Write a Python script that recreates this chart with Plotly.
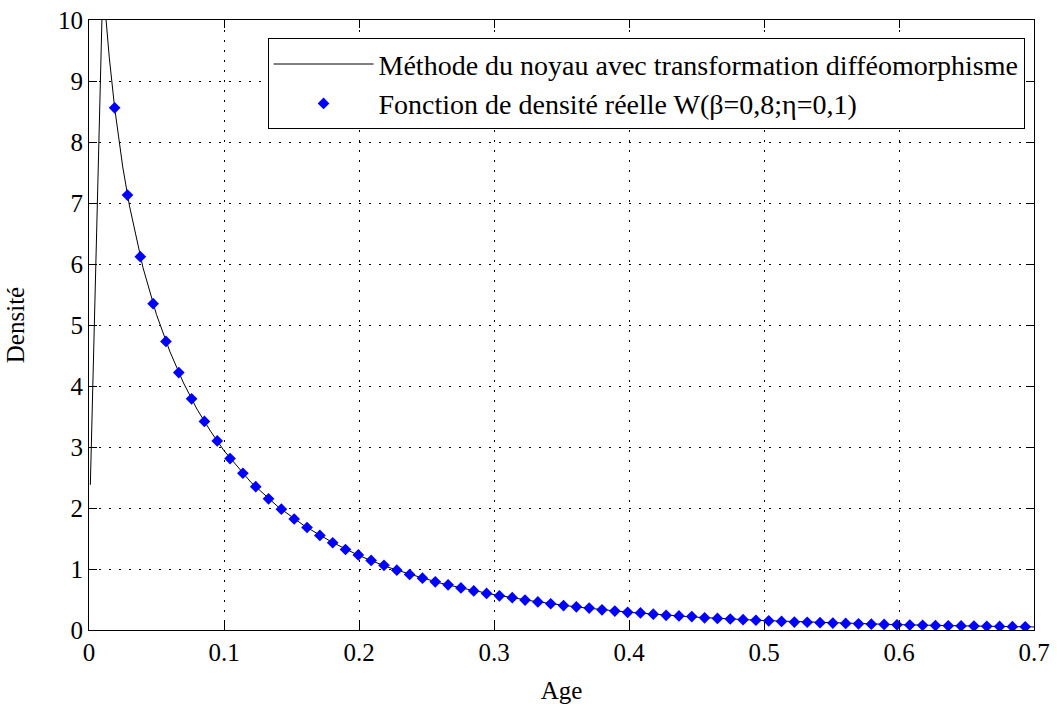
import plotly.graph_objects as go

# Kernel estimate (line)
kernel_x = [0.0010, 0.0107, 0.0123, 0.015, 0.019, 0.025, 0.03, 0.04, 0.05, 0.06, 0.07, 0.08,
            0.09, 0.10, 0.12, 0.14, 0.16, 0.18, 0.20, 0.22, 0.24, 0.26, 0.28, 0.30, 0.33,
            0.36, 0.40, 0.45, 0.50, 0.55, 0.60, 0.65, 0.70]
kernel_y = [2.38, 11.0, 10.09, 9.39, 8.56, 7.59, 6.95, 5.94, 5.17, 4.56, 4.05, 3.62,
            3.26, 2.94, 2.42, 2.02, 1.70, 1.44, 1.22, 1.04, 0.90, 0.77, 0.67, 0.58, 0.47,
            0.38, 0.29, 0.21, 0.155, 0.115, 0.087, 0.067, 0.05]

# True density (markers)
true_x = [0.019, 0.0285, 0.038, 0.0475, 0.057, 0.0665, 0.076, 0.0855, 0.095, 0.1045,
          0.114, 0.1235, 0.133, 0.1425, 0.152, 0.1615, 0.171, 0.1805, 0.19, 0.1995,
          0.209, 0.2185, 0.228, 0.2375, 0.247, 0.2565, 0.266, 0.2755, 0.285, 0.2945,
          0.304, 0.3135, 0.323, 0.3325, 0.342, 0.3515, 0.361, 0.3705, 0.38, 0.3895,
          0.399, 0.4085, 0.418, 0.4275, 0.437, 0.4465, 0.456, 0.4655, 0.475, 0.4845,
          0.494, 0.5035, 0.513, 0.5225, 0.532, 0.5415, 0.551, 0.5605, 0.57, 0.5795,
          0.589, 0.5985, 0.608, 0.6175, 0.627, 0.6365, 0.646, 0.6555, 0.665, 0.6745,
          0.684, 0.6935]
true_y = [8.56, 7.13, 6.12, 5.35, 4.73, 4.22, 3.79, 3.42, 3.10, 2.81,
          2.57, 2.35, 2.15, 1.98, 1.82, 1.68, 1.55, 1.43, 1.32, 1.23,
          1.14, 1.06, 0.98, 0.91, 0.85, 0.79, 0.74, 0.69, 0.64, 0.60,
          0.56, 0.53, 0.49, 0.46, 0.43, 0.40, 0.38, 0.36, 0.33, 0.31,
          0.29, 0.28, 0.26, 0.24, 0.23, 0.22, 0.20, 0.19, 0.18, 0.17,
          0.16, 0.15, 0.14, 0.13, 0.127, 0.12, 0.113, 0.107, 0.101, 0.096,
          0.091, 0.086, 0.082, 0.078, 0.074, 0.070, 0.067, 0.064, 0.061, 0.058,
          0.055, 0.052]

x_ticks = [0, 0.1, 0.2, 0.3, 0.4, 0.5, 0.6, 0.7]
x_ticklabels = ["0", "0.1", "0.2", "0.3", "0.4", "0.5", "0.6", "0.7"]
y_ticks = [0, 1, 2, 3, 4, 5, 6, 7, 8, 9, 10]
y_ticklabels = ["0", "1", "2", "3", "4", "5", "6", "7", "8", "9", "10"]

name_kernel = "Méthode du noyau avec transformation difféomorphisme"
name_true = "Fonction de densité réelle W(β=0,8;η=0,1)"

FONT = "Liberation Serif, Times New Roman, serif"

fig = go.Figure()
fig.add_trace(go.Scatter(x=kernel_x, y=kernel_y, mode="lines", name=name_kernel,
                         line=dict(color="black", width=1)))
fig.add_trace(go.Scatter(x=true_x, y=true_y, mode="markers", name=name_true,
                         marker=dict(color="#0000ff", symbol="diamond", size=9,
                                     line=dict(width=0))))

axis_common = dict(
    showline=True, linecolor="black", linewidth=1, mirror="ticks",
    ticks="inside", ticklen=8, tickcolor="black", tickwidth=1,
    showgrid=True, gridcolor="black", gridwidth=1, griddash="2px,8px",
    zeroline=False, ticklabeloverflow="allow",
    tickfont=dict(family=FONT, size=25, color="black"),
)

fig.update_xaxes(range=[0, 0.7], tickvals=x_ticks, ticktext=x_ticklabels,
                 title=dict(text="Age", font=dict(family=FONT, size=25, color="black"),
                            standoff=16),
                 **axis_common)
fig.update_yaxes(range=[0, 10], tickvals=y_ticks, ticktext=y_ticklabels,
                 title=dict(text="Densité", font=dict(family=FONT, size=25, color="black"),
                            standoff=26),
                 **axis_common)

fig.update_layout(
    width=1057, height=708,
    margin=dict(l=89, r=23, t=20, b=78, autoexpand=False),
    paper_bgcolor="white", plot_bgcolor="white",
    showlegend=True,
    legend=dict(x=0.99, y=0.970, xanchor="right", yanchor="top",
                bgcolor="white", bordercolor="black", borderwidth=1,
                font=dict(family=FONT, size=28, color="black"),
                itemwidth=100, tracegroupgap=0),
)

fig.write_html("out.html", config={"displayModeBar": False},
               post_script="document.body.style.margin='0';document.body.style.overflow='hidden';")
